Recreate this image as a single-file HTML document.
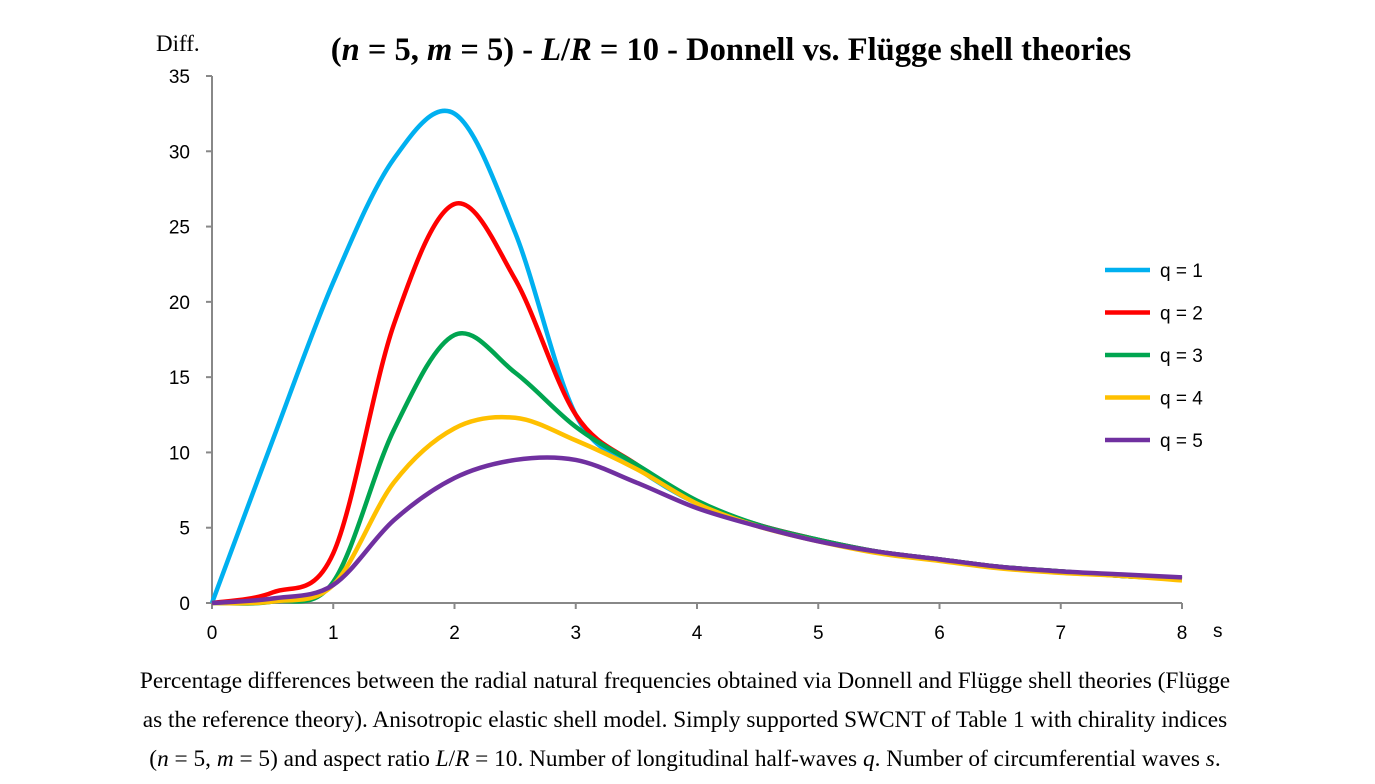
<!DOCTYPE html>
<html><head><meta charset="utf-8"><style>
body{margin:0;background:#fff;width:1375px;height:784px;overflow:hidden}
svg{display:block}
.t{font-family:"Liberation Serif",serif}
.s{font-family:"Liberation Sans",sans-serif}
</style></head><body>
<svg id="c" width="1375" height="784">
<text class="t" x="731" y="60" font-size="32.5" font-weight="bold" text-anchor="middle">(<tspan font-style="italic">n</tspan> = 5, <tspan font-style="italic">m</tspan> = 5) - <tspan font-style="italic">L</tspan>/<tspan font-style="italic">R</tspan> = 10 - Donnell vs. Flügge shell theories</text>
<text class="t" x="156" y="51" font-size="23">Diff.</text>
<text class="s" x="1213" y="637" font-size="19">s</text>
<g id="axes"></g><g id="series"></g><g id="legend"></g>
<g class="t" font-size="23.3" text-anchor="middle">
<text x="685" y="688">Percentage differences between the radial natural frequencies obtained via Donnell and Flügge shell theories (Flügge</text>
<text x="685" y="727">as the reference theory). Anisotropic elastic shell model. Simply supported SWCNT of Table 1 with chirality indices</text>
<text x="685" y="766">(<tspan font-style="italic">n</tspan> = 5, <tspan font-style="italic">m</tspan> = 5) and aspect ratio <tspan font-style="italic">L</tspan>/<tspan font-style="italic">R</tspan> = 10. Number of longitudinal half-waves <tspan font-style="italic">q</tspan>. Number of circumferential waves <tspan font-style="italic">s</tspan>.</text>
</g>
</svg>
<script>
const sValues=[0,0.5,1,1.5,2,2.5,3,3.5,4,4.5,5,5.5,6,6.5,7,7.5,8];
const q1=[0,10.8,21.3,29.5,32.5,24.6,12.5,9,6.6,5.2,4.2,3.4,2.9,2.4,2.1,1.8,1.6];
const q2=[0,0.7,3.3,18.5,26.5,21.5,12.5,9.2,6.7,5.2,4.2,3.4,2.9,2.4,2.1,1.8,1.6];
const q3=[0,0.1,1.4,11.5,17.8,15.3,11.7,9.2,6.8,5.2,4.2,3.4,2.9,2.4,2.1,1.8,1.6];
const q4=[0,0.1,1.2,8,11.6,12.3,10.8,8.9,6.6,5.1,4.1,3.3,2.8,2.3,2,1.8,1.5];
const q5=[0,0.3,1.2,5.5,8.3,9.5,9.5,8,6.3,5.1,4.1,3.4,2.9,2.4,2.1,1.9,1.7];
const seriesNames=["q = 1","q = 2","q = 3","q = 4","q = 5"];
const colors=["#00b0f0","#ff0000","#00a550","#ffc000","#7030a0"];
const xTicks=[0,1,2,3,4,5,6,7,8];
const yTicks=[0,5,10,15,20,25,30,35];
const NS="http://www.w3.org/2000/svg";
const X=v=>212+v*(1182-212)/8, Y=v=>603-v*(603-76)/35;
function mk(t,a,p){const e=document.createElementNS(NS,t);for(const k in a)e.setAttribute(k,a[k]);p.appendChild(e);return e;}
const ax=document.getElementById('axes');
let l=mk('line',{x1:X(0),y1:Y(0),x2:X(0),y2:Y(35),stroke:'#888','stroke-width':2},ax);


l=mk('line',{x1:X(0),y1:Y(0),x2:X(8),y2:Y(0),stroke:'#888','stroke-width':2},ax);


yTicks.forEach(v=>{mk('line',{x1:X(0)-6,x2:X(0),y1:Y(v),y2:Y(v),stroke:'#888','stroke-width':2},ax);
const t=mk('text',{x:X(0)-22,y:Y(v)+7,'font-size':19,'text-anchor':'end',class:'s'},ax);t.textContent=v;

});
xTicks.forEach(v=>{mk('line',{x1:X(v),x2:X(v),y1:Y(0),y2:Y(0)+6,stroke:'#888','stroke-width':2},ax);
const t=mk('text',{x:X(v),y:Y(0)+36,'font-size':19,'text-anchor':'middle',class:'s'},ax);t.textContent=v;

});
function path(vals){const p=sValues.map((s,i)=>[X(s),Y(vals[i])]);let d=`M${p[0][0]},${p[0][1]}`;
for(let i=0;i<p.length-1;i++){const p0=p[i-1]||p[i],p1=p[i],p2=p[i+1],p3=p[i+2]||p2;
const c1=[p1[0]+(p2[0]-p0[0])/6,p1[1]+(p2[1]-p0[1])/6],c2=[p2[0]-(p3[0]-p1[0])/6,p2[1]-(p3[1]-p1[1])/6];
d+=`C${c1[0]},${c1[1]} ${c2[0]},${c2[1]} ${p2[0]},${p2[1]}`;}return d;}
const sg=document.getElementById('series'),lg=document.getElementById('legend');
[q1,q2,q3,q4,q5].forEach((vals,i)=>{const e=mk('path',{d:path(vals),fill:'none',stroke:colors[i],'stroke-width':4.5,'stroke-linejoin':'round'},sg);


const y=270+i*42.5;
const g=mk('g',{},lg);


mk('line',{x1:1105,x2:1150,y1:y,y2:y,stroke:colors[i],'stroke-width':4.5},g);
const t=mk('text',{x:1160,y:y+7,'font-size':19,class:'s'},g);t.textContent=seriesNames[i];});
</script>
</body></html>
